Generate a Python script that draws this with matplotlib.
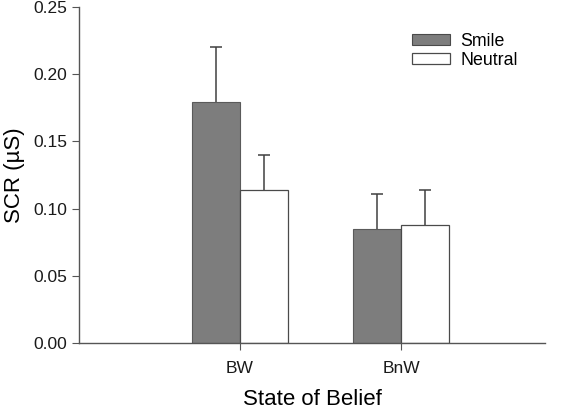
import matplotlib
matplotlib.use("Agg")
import matplotlib.pyplot as plt
import numpy as np

plt.rcParams['font.family'] = ['Liberation Sans', 'DejaVu Sans']

categories = ["BW", "BnW"]
series_names = ["Smile", "Neutral"]
smile = [0.179, 0.085]
smile_err = [0.041, 0.026]
neutral = [0.114, 0.088]
neutral_err = [0.026, 0.026]
yticks = [0.00, 0.05, 0.10, 0.15, 0.20, 0.25]

fig = plt.figure(figsize=(5.63, 4.09), dpi=100)
ax = fig.add_axes([79/563, 1-343/409, (545-79)/563, (343-7)/409])

x = np.arange(len(categories))
w = 0.298
ekw = dict(ecolor='#404040', elinewidth=1.1, capsize=4, capthick=1.1)
b1 = ax.bar(x - w/2, smile, w, color='#7d7d7d', edgecolor='#5a5a5a', linewidth=0.8,
            label=series_names[0], yerr=[np.zeros(2), smile_err], error_kw=ekw)
b2 = ax.bar(x + w/2, neutral, w, color='white', edgecolor='#4a4a4a', linewidth=0.9,
            label=series_names[1], yerr=[np.zeros(2), neutral_err], error_kw=ekw)

# hide the lower caps (lower error is zero)
for cont, vals in ((b1, smile), (b2, neutral)):
    caps = cont.errorbar.lines[1]
    for c in caps:
        if np.allclose(c.get_ydata(), vals):
            c.set_visible(False)

ax.set_xlim(-1.0, 1.894)
ax.set_ylim(0, 0.25)
ax.set_yticks(yticks)
ax.set_yticklabels([f"{v:.2f}" for v in yticks])
ax.set_xticks(x)
ax.set_xticklabels(categories)
for s in ['top', 'right']:
    ax.spines[s].set_visible(False)
for s in ['left', 'bottom']:
    ax.spines[s].set_color('#555555')
    ax.spines[s].set_linewidth(1)
ax.tick_params(axis='both', colors='#555555', labelcolor='#1a1a1a', labelsize=12.5, length=5, direction='out')
ax.tick_params(axis='x', pad=8)
ax.set_xlabel("State of Belief", fontsize=16, labelpad=9)
ax.set_ylabel("SCR (µS)", fontsize=16, labelpad=6)

leg = ax.legend(loc='upper left', bbox_to_anchor=(0.687, 0.96), frameon=False, fontsize=12.8,
                handlelength=2.14, handleheight=0.56, handletextpad=0.6, labelspacing=0.13,
                borderaxespad=0.3)
for h in leg.legend_handles:
    h.set_edgecolor('#4a4a4a')

fig.savefig("out.png", dpi=100)
